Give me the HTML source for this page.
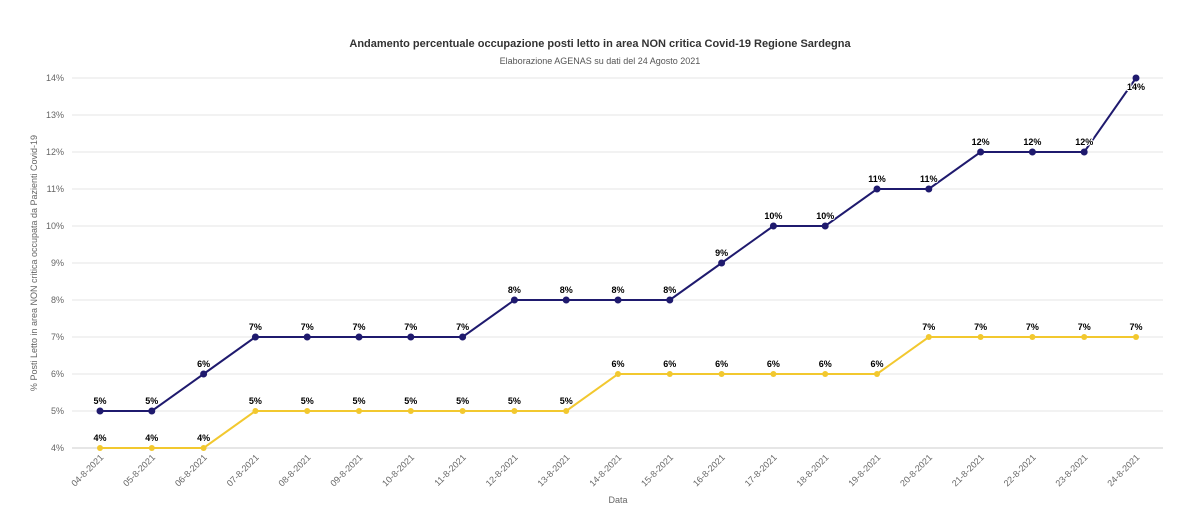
<!DOCTYPE html>
<html><head><meta charset="utf-8"><style>
body{margin:0;background:#fff;font-family:"Liberation Sans",sans-serif}
</style></head><body>
<svg id="c" width="1200" height="507" xmlns="http://www.w3.org/2000/svg">
<text x="600" y="47" text-anchor="middle" font-size="11" font-weight="bold" fill="#333">Andamento percentuale occupazione posti letto in area NON critica Covid-19 Regione Sardegna</text>
<text x="600" y="64" text-anchor="middle" font-size="9" fill="#555">Elaborazione AGENAS su dati del 24 Agosto 2021</text>
<text transform="translate(37,263) rotate(-90)" text-anchor="middle" font-size="9" fill="#666">% Posti Letto in area NON critica occupata da Pazienti Covid-19</text>
<text x="618" y="503" text-anchor="middle" font-size="9" fill="#666">Data</text>
<g id="grid"></g><g id="xl"></g><g id="s"></g>
</svg>
<script>
const categories=["04-8-2021","05-8-2021","06-8-2021","07-8-2021","08-8-2021","09-8-2021","10-8-2021","11-8-2021","12-8-2021","13-8-2021","14-8-2021","15-8-2021","16-8-2021","17-8-2021","18-8-2021","19-8-2021","20-8-2021","21-8-2021","22-8-2021","23-8-2021","24-8-2021"];
const seriesA=[5,5,6,7,7,7,7,7,8,8,8,8,9,10,10,11,11,12,12,12,14];
const seriesB=[4,4,4,5,5,5,5,5,5,5,6,6,6,6,6,6,7,7,7,7,7];
const yTicks=[4,5,6,7,8,9,10,11,12,13,14];
const NS="http://www.w3.org/2000/svg";
const xs=i=>100+i*(1036/(categories.length-1));
const ys=v=>448-(v-4)*37;
function mk(t,a,p){const e=document.createElementNS(NS,t);for(const k in a)e.setAttribute(k,a[k]);p.appendChild(e);return e;}
const g=document.getElementById('grid');
yTicks.forEach(v=>{
 const l=mk('line',{x1:72,x2:1163,y1:ys(v),y2:ys(v),stroke:v===4?'#ccc':'#e6e6e6','stroke-width':1},g);
 
 
 const t=mk('text',{x:64,y:ys(v)+3,'text-anchor':'end','font-size':9,fill:'#666'},g);
 t.textContent=v+'%';
 
 
});
const xl=document.getElementById('xl');
categories.forEach((c,i)=>{
 const t=mk('text',{transform:`translate(${xs(i)+4},${458}) rotate(-45)`,'text-anchor':'end','font-size':9,fill:'#666'},xl);
 t.textContent=c;
 
 
});
const s=document.getElementById('s');
function series(d,col,name){
 const p=mk('polyline',{points:d.map((v,i)=>xs(i)+','+ys(v)).join(' '),fill:'none',stroke:col,'stroke-width':2},s);
 
 
 d.forEach((v,i)=>{
  const c=mk('circle',{cx:xs(i),cy:ys(v),r:name==='series-a'?3.5:3,fill:col},s);
  
  
  const last=name==='series-a'&&i===d.length-1;
  const t=mk('text',{x:xs(i),y:last?ys(v)+12:ys(v)-7,'text-anchor':'middle','font-size':9,'font-weight':'bold',fill:'#000',stroke:'#fff','stroke-width':2,'paint-order':'stroke'},s);
  t.textContent=v+'%';
  
  
 });
}
series(seriesB,'#f2c82f','series-b');
series(seriesA,'#1f1a6e','series-a');
</script>
</body></html>
